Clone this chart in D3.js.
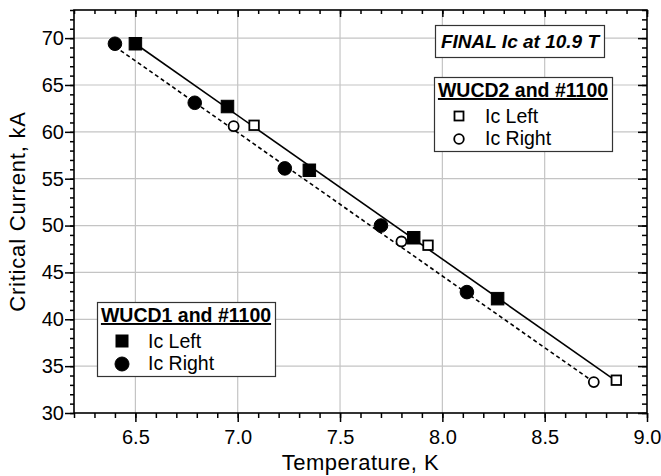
<!DOCTYPE html>
<html>
<head>
<meta charset="utf-8">
<script src="https://cdn.jsdelivr.net/npm/d3@7"></script>
<style>
  body { margin: 0; background: #fff; }
  text { font-family: "Liberation Sans", Arial, sans-serif; fill: #000; }
</style>
</head>
<body>
<div id="chart"></div>
<script>
// WUCD1 and #1100 (filled markers)
var wucd1LeftT = [6.50, 6.95, 7.35, 7.86, 8.27];
var wucd1LeftIc = [69.4, 62.7, 55.9, 48.7, 42.2];
var wucd1RightT = [6.40, 6.79, 7.23, 7.70, 8.12];
var wucd1RightIc = [69.4, 63.1, 56.1, 50.0, 42.9];

// WUCD2 and #1100 (open markers)
var wucd2LeftT = [7.08, 7.93, 8.85];
var wucd2LeftIc = [60.7, 47.9, 33.5];
var wucd2RightT = [6.98, 7.80, 8.74];
var wucd2RightIc = [60.6, 48.3, 33.3];

// linear fit lines (end points)
var fitLeftT = [6.50, 8.85];
var fitLeftIc = [69.4, 33.4];
var fitRightT = [6.40, 8.74];
var fitRightIc = [69.1, 33.3];

var xTicks = [6.5, 7.0, 7.5, 8.0, 8.5, 9.0];
var yTicks = [30, 35, 40, 45, 50, 55, 60, 65, 70];

function init() {
    var w = 661;
    var h = 476;
    var margin = {top: 10, right: 14, bottom: 63, left: 74};

    var svg = d3.select("#chart")
        .append("svg")
        .attr("width", w)
        .attr("height", h);

    var xScale = d3.scaleLinear()
        .domain([6.2, 9.0])
        .range([margin.left, w - margin.right]);

    var yScale = d3.scaleLinear()
        .domain([30, 73])
        .range([h - margin.bottom, margin.top]);

    var x0 = xScale.range()[0], x1 = xScale.range()[1];
    var y0 = yScale.range()[0], y1 = yScale.range()[1];

    var xMinor = d3.range(62, 91).map(function(d) { return d / 10; });
    var yMinor = d3.range(30, 74);

    // grid lines
    svg.append("g")
        .selectAll("line")
        .data(xTicks.filter(function(d) { return d < 9.0; }))
        .enter()
        .append("line")
        .attr("x1", function(d) { return xScale(d); })
        .attr("x2", function(d) { return xScale(d); })
        .attr("y1", y0)
        .attr("y2", y1)
        .attr("stroke", "#c4c4c4")
        .attr("stroke-width", 1.2);

    svg.append("g")
        .selectAll("line")
        .data(yTicks.filter(function(d) { return d > 30; }))
        .enter()
        .append("line")
        .attr("x1", x0)
        .attr("x2", x1)
        .attr("y1", function(d) { return yScale(d); })
        .attr("y2", function(d) { return yScale(d); })
        .attr("stroke", "#c4c4c4")
        .attr("stroke-width", 1.2);

    // axes: bottom/left ticks outward, top/right mirrored inward
    function styleAxis(g) {
        g.select(".domain").remove();
        g.selectAll("line").attr("stroke", "#000").attr("stroke-width", 1.5);
        g.selectAll("text")
            .style("font-size", "20px")
            .style("font-family", "'Liberation Sans', Arial, sans-serif");
    }

    svg.append("g")
        .attr("transform", "translate(0," + y0 + ")")
        .call(d3.axisBottom(xScale).tickValues(xMinor).tickSize(5).tickFormat(""))
        .call(styleAxis);
    svg.append("g")
        .attr("transform", "translate(0," + y0 + ")")
        .call(d3.axisBottom(xScale).tickValues(xTicks).tickSize(9).tickPadding(8)
            .tickFormat(d3.format(".1f")))
        .call(styleAxis);

    svg.append("g")
        .attr("transform", "translate(0," + y1 + ")")
        .call(d3.axisBottom(xScale).tickValues(xMinor).tickSize(4).tickFormat(""))
        .call(styleAxis);
    svg.append("g")
        .attr("transform", "translate(0," + y1 + ")")
        .call(d3.axisBottom(xScale).tickValues(xTicks).tickSize(7).tickFormat(""))
        .call(styleAxis);

    svg.append("g")
        .attr("transform", "translate(" + x0 + ",0)")
        .call(d3.axisLeft(yScale).tickValues(yMinor).tickSize(4).tickFormat(""))
        .call(styleAxis);
    svg.append("g")
        .attr("transform", "translate(" + x0 + ",0)")
        .call(d3.axisLeft(yScale).tickValues(yTicks).tickSize(9).tickPadding(1))
        .call(styleAxis);

    svg.append("g")
        .attr("transform", "translate(" + x1 + ",0)")
        .call(d3.axisLeft(yScale).tickValues(yMinor).tickSize(5).tickFormat(""))
        .call(styleAxis);
    svg.append("g")
        .attr("transform", "translate(" + x1 + ",0)")
        .call(d3.axisLeft(yScale).tickValues(yTicks).tickSize(9).tickFormat(""))
        .call(styleAxis);

    // frame
    svg.append("rect")
        .attr("x", x0)
        .attr("y", y1)
        .attr("width", x1 - x0)
        .attr("height", y0 - y1)
        .attr("fill", "none")
        .attr("stroke", "#000")
        .attr("stroke-width", 1.6);

    // axis titles
    svg.append("text")
        .attr("x", (x0 + x1) / 2)
        .attr("y", 470)
        .attr("text-anchor", "middle")
        .style("font-size", "22px")
        .style("letter-spacing", "0.5px")
        .text("Temperature, K");

    svg.append("text")
        .attr("transform", "translate(25," + (y0 + y1) / 2 + ") rotate(-90)")
        .attr("text-anchor", "middle")
        .style("font-size", "22px")
        .style("letter-spacing", "0.8px")
        .text("Critical Current, kA");

    // fit lines
    var line = d3.line()
        .x(function(d) { return xScale(d[0]); })
        .y(function(d) { return yScale(d[1]); });

    svg.append("path")
        .datum(d3.zip(fitLeftT, fitLeftIc))
        .attr("d", line)
        .attr("fill", "none")
        .attr("stroke", "#000")
        .attr("stroke-width", 1.6);

    svg.append("path")
        .datum(d3.zip(fitRightT, fitRightIc))
        .attr("d", line)
        .attr("fill", "none")
        .attr("stroke", "#000")
        .attr("stroke-width", 1.6)
        .attr("stroke-dasharray", "4,3");

    // markers
    function squares(t, ic, size, filled) {
        svg.append("g")
            .selectAll("rect")
            .data(d3.zip(t, ic))
            .enter()
            .append("rect")
            .attr("x", function(d) { return xScale(d[0]) - size / 2; })
            .attr("y", function(d) { return yScale(d[1]) - size / 2; })
            .attr("width", size)
            .attr("height", size)
            .attr("fill", filled ? "#000" : "#fff")
            .attr("stroke", "#000")
            .attr("stroke-width", filled ? 1 : 1.8);
    }

    function circles(t, ic, r, filled) {
        svg.append("g")
            .selectAll("circle")
            .data(d3.zip(t, ic))
            .enter()
            .append("circle")
            .attr("cx", function(d) { return xScale(d[0]); })
            .attr("cy", function(d) { return yScale(d[1]); })
            .attr("r", r)
            .attr("fill", filled ? "#000" : "#fff")
            .attr("stroke", "#000")
            .attr("stroke-width", filled ? 1 : 1.8);
    }

    circles(wucd2RightT, wucd2RightIc, 5, false);
    squares(wucd2LeftT, wucd2LeftIc, 9.5, false);
    circles(wucd1RightT, wucd1RightIc, 6.8, true);
    squares(wucd1LeftT, wucd1LeftIc, 12.5, true);

    // title box
    var tb = svg.append("g");
    tb.append("rect")
        .attr("x", 435.5).attr("y", 25.5)
        .attr("width", 169).attr("height", 32)
        .attr("fill", "#fff")
        .attr("stroke", "#333")
        .attr("stroke-width", 1.2);
    tb.append("text")
        .attr("x", 520).attr("y", 48)
        .attr("text-anchor", "middle")
        .style("font-size", "19px")
        .style("font-weight", "bold")
        .style("font-style", "italic")
        .text("FINAL Ic at 10.9 T");

    // legends
    function legend(x, y, title, filled) {
        var g = svg.append("g");
        g.append("rect")
            .attr("x", x + 0.5).attr("y", y + 0.5)
            .attr("width", 178).attr("height", 74)
            .attr("fill", "#fff")
            .attr("stroke", "#333")
            .attr("stroke-width", 1.2);
        g.append("text")
            .attr("x", x + 89).attr("y", y + 20)
            .attr("text-anchor", "middle")
            .style("font-size", "19.5px")
            .style("font-weight", "bold")
            .style("text-decoration", "underline")
            .text(title);
        g.append("text")
            .attr("x", x + 51).attr("y", y + 46)
            .style("font-size", "19.5px")
            .text("Ic Left");
        g.append("text")
            .attr("x", x + 51).attr("y", y + 68)
            .style("font-size", "19.5px")
            .text("Ic Right");
        var s = filled ? 12 : 9;
        g.append("rect")
            .attr("x", x + 25 - s / 2).attr("y", y + 39 - s / 2)
            .attr("width", s).attr("height", s)
            .attr("fill", filled ? "#000" : "#fff")
            .attr("stroke", "#000")
            .attr("stroke-width", filled ? 1 : 1.8);
        g.append("circle")
            .attr("cx", x + 25).attr("cy", y + 62)
            .attr("r", filled ? 7 : 4.8)
            .attr("fill", filled ? "#000" : "#fff")
            .attr("stroke", "#000")
            .attr("stroke-width", filled ? 1 : 1.8);
    }

    legend(434, 77, "WUCD2 and #1100", false);
    legend(97, 302, "WUCD1 and #1100", true);
}

window.onload = init;
</script>
</body>
</html>
